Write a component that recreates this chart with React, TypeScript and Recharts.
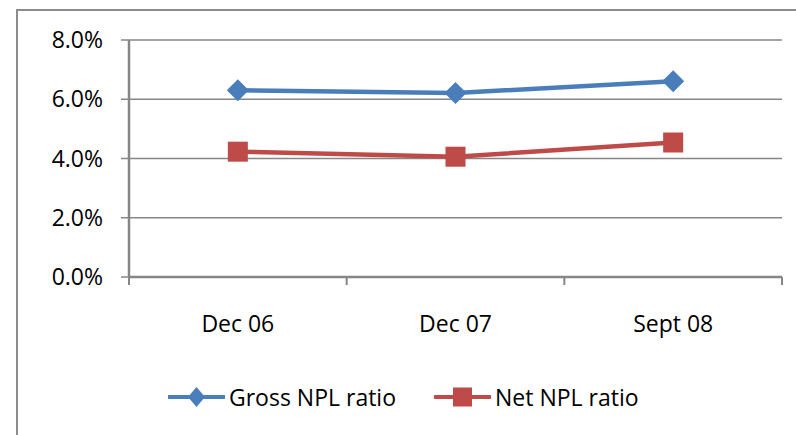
import { LineChart, Line, XAxis, YAxis, CartesianGrid, Legend } from "recharts";

const categories = ["Dec 06", "Dec 07", "Sept 08"];
const grossNpl = [0.063, 0.0621, 0.0661];
const netNpl = [0.0423, 0.0406, 0.0454];
const yTicks = [0, 0.02, 0.04, 0.06, 0.08];

const data = categories.map((name, i) => ({
  name,
  gross: grossNpl[i],
  net: netNpl[i]
}));

const FONT = "'Open Sans', 'Noto Sans', sans-serif";
const AXIS = "#868686";
const BLUE = "#4A7EBB";
const RED = "#BE4B48";

const Diamond = (props: any) => {
  const { cx, cy, size = 11, color } = props;
  if (cx == null || cy == null) return null;
  return (
    <path
      d={`M${cx},${cy - size} L${cx + size},${cy} L${cx},${cy + size} L${cx - size},${cy} Z`}
      fill={color} />);
};

const Square = (props: any) => {
  const { cx, cy, side = 20, color } = props;
  if (cx == null || cy == null) return null;
  return <rect x={cx - side / 2} y={cy - side / 2} width={side} height={side} fill={color} />;
};

const CategoryTick = (props: any) => {
  const { x, y, payload, index, visibleTicksCount } = props;
  const half = payload?.offset ?? 0;
  const last = index === (visibleTicksCount ?? categories.length) - 1;
  return (
    <g>
      <line x1={x - half} x2={x - half} y1={y} y2={y + 8} stroke={AXIS} strokeWidth={2} />
      {last &&
      <line x1={x + half} x2={x + half} y1={y} y2={y + 8} stroke={AXIS} strokeWidth={2} />}
      <text x={x} y={y + 55} textAnchor="middle" fill="#000" fontSize={23} fontFamily={FONT}>
        {payload.value}
      </text>
    </g>);
};

const LegendContent = (props: any) => {
  const { payload = [] } = props;
  return (
    <div style={{ display: "flex", alignItems: "center", height: 30, paddingLeft: 168 }}>
      {payload.map((p: any, i: number) =>
      <div key={p.value} style={{ display: "flex", alignItems: "center", marginRight: i === 0 ? 38 : 0 }}>
          <svg width={57} height={24} style={{ display: "block" }}>
            <line x1={1} x2={56} y1={12} y2={12} stroke={p.color} strokeWidth={4} strokeLinecap="round" />
            {i === 0 ?
          <path d="M28.5,2 L37,12 L28.5,22 L20,12 Z" fill={p.color} /> :
          <rect x={19} y={2.5} width={19} height={19} fill={p.color} />}
          </svg>
          <span style={{ marginLeft: 4, fontSize: 23, fontFamily: FONT, color: "#000" }}>{p.value}</span>
        </div>
      )}
    </div>);
};

export default function App() {
  return (
    <div style={{ position: "absolute", left: 0, top: 0, width: 796, height: 435, background: "#fff", overflow: "hidden" }}>
      <div
        style={{
          position: "absolute",
          left: 16,
          top: 9,
          width: 820,
          height: 500,
          border: "2px solid #8c8c8c",
          boxSizing: "border-box"
        }} />
      <LineChart
        width={796}
        height={435}
        data={data}
        margin={{ top: 40, right: 14, bottom: 0, left: 0 }}
        style={{ position: "absolute", left: 0, top: 0 }}>
        <CartesianGrid vertical={false} stroke={AXIS} strokeWidth={1.5} />
        <XAxis
          dataKey="name"
          scale="band"
          height={128}
          axisLine={{ stroke: AXIS, strokeWidth: 2.5 }}
          tickLine={false}
          tickSize={0}
          tickMargin={0}
          interval={0}
          tick={<CategoryTick />} />
        <YAxis
          width={129}
          domain={[0, 0.08]}
          ticks={yTicks}
          interval={0}
          tickFormatter={(v: number) => `${(v * 100).toFixed(1)}%`}
          axisLine={{ stroke: AXIS, strokeWidth: 2.5 }}
          tickLine={{ stroke: AXIS, strokeWidth: 1.5 }}
          tickSize={8}
          tickMargin={18}
          tick={{ fill: "#000", fontSize: 23, fontFamily: FONT }} />
        <Legend
          content={<LegendContent />}
          wrapperStyle={{ top: 382, left: 0, width: 796 }} />
        <Line
          dataKey="gross"
          name="Gross NPL ratio"
          stroke={BLUE}
          strokeWidth={4.5}
          dot={<Diamond color={BLUE} />}
          activeDot={false}
          isAnimationActive={false} />
        <Line
          dataKey="net"
          name="Net NPL ratio"
          stroke={RED}
          strokeWidth={4.5}
          dot={<Square color={RED} />}
          activeDot={false}
          isAnimationActive={false} />
      </LineChart>
    </div>);
}
